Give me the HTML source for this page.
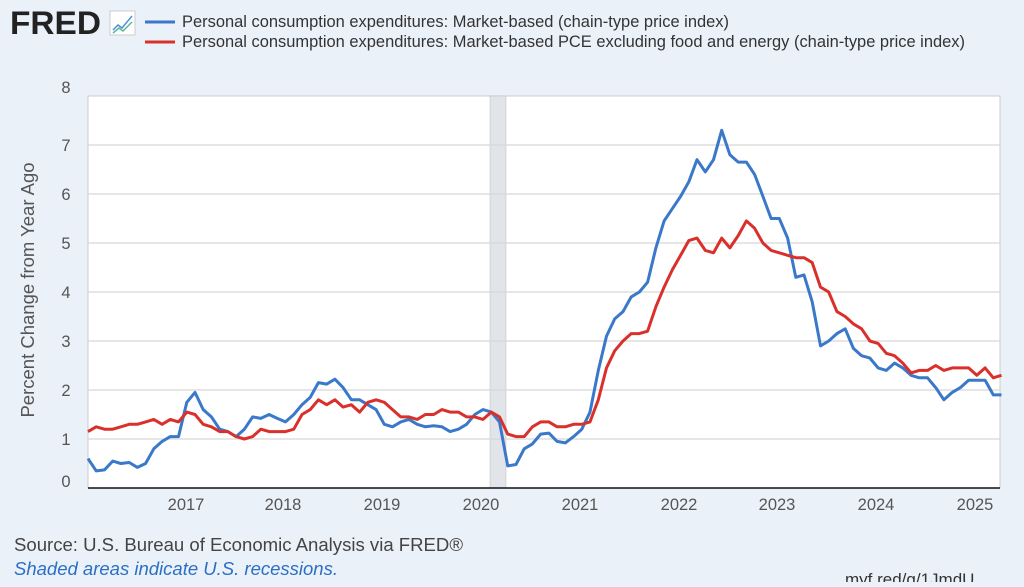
<!DOCTYPE html><html><head><style>body{margin:0;background:#ebf1f9;width:1024px;height:582px;overflow:hidden;font-family:"Liberation Sans",sans-serif}</style></head><body>
<svg width="1024" height="582" xmlns="http://www.w3.org/2000/svg" font-family="Liberation Sans, sans-serif">
<rect width="1024" height="582" fill="#ebf1f9"/>
<text x="10" y="34" font-size="32" font-weight="bold" fill="#222" textLength="91" lengthAdjust="spacingAndGlyphs">FRED</text>
<rect x="110" y="11" width="25" height="24" fill="#fff" stroke="#ccc"/>
<polyline points="113,30 118,25 122,28 132,16" fill="none" stroke="#4a90d9" stroke-width="1.5"/>
<polyline points="113,33 119,28 123,31 132,22" fill="none" stroke="#5bb89b" stroke-width="1.5"/>
<line x1="145" y1="22" x2="175" y2="22" stroke="#3a78c9" stroke-width="3"/>
<line x1="145" y1="42" x2="175" y2="42" stroke="#d9302c" stroke-width="3"/>
<text x="182" y="27" font-size="16.4" fill="#333" textLength="547" lengthAdjust="spacingAndGlyphs">Personal consumption expenditures: Market-based (chain-type price index)</text>
<text x="182" y="47" font-size="16.4" fill="#333" textLength="783" lengthAdjust="spacingAndGlyphs">Personal consumption expenditures: Market-based PCE excluding food and energy (chain-type price index)</text>
<rect x="88" y="96" width="912" height="392" fill="#fff" stroke="#ccc"/>
<rect x="490" y="96" width="16" height="392" fill="#e1e5ea" stroke="#bbb" stroke-width="0.5"/>
<g stroke="#d8d8d8" stroke-width="1.2">
<line x1="88" x2="1000" y1="439" y2="439"/><line x1="88" x2="1000" y1="390" y2="390"/><line x1="88" x2="1000" y1="341" y2="341"/><line x1="88" x2="1000" y1="292" y2="292"/><line x1="88" x2="1000" y1="243" y2="243"/><line x1="88" x2="1000" y1="194" y2="194"/><line x1="88" x2="1000" y1="145" y2="145"/></g>
<line x1="88" x2="1000" y1="488" y2="488" stroke="#111" stroke-width="1.5"/>
<g font-size="16.5" fill="#555" text-anchor="middle">
<text x="66" y="93">8</text><text x="66" y="151">7</text><text x="66" y="200">6</text><text x="66" y="249">5</text><text x="66" y="298">4</text><text x="66" y="347">3</text><text x="66" y="396">2</text><text x="66" y="445">1</text><text x="66" y="487">0</text>
<text x="186" y="510">2017</text><text x="283" y="510">2018</text><text x="382" y="510">2019</text><text x="481" y="510">2020</text><text x="580" y="510">2021</text><text x="679" y="510">2022</text><text x="777" y="510">2023</text><text x="876" y="510">2024</text><text x="975" y="510">2025</text>
</g>
<text transform="translate(34,290) rotate(-90)" font-size="18.5" fill="#555" text-anchor="middle">Percent Change from Year Ago</text>
<text x="14" y="551" font-size="18" fill="#444" textLength="449" lengthAdjust="spacingAndGlyphs">Source: U.S. Bureau of Economic Analysis via FRED®</text>
<text x="14" y="575" font-size="18" fill="#2b6fc4" font-style="italic" textLength="324" lengthAdjust="spacingAndGlyphs">Shaded areas indicate U.S. recessions.</text>
<text x="845" y="585" font-size="17" fill="#333">myf.red/g/1JmdU</text>
<g id="s"></g>
</svg>
<script>
var b=[0.6,0.35,0.37,0.55,0.5,0.52,0.42,0.5,0.8,0.95,1.05,1.05,1.75,1.95,1.6,1.45,1.2,1.15,1.05,1.2,1.45,1.42,1.5,1.42,1.35,1.5,1.7,1.85,2.15,2.12,2.22,2.05,1.8,1.8,1.7,1.6,1.3,1.25,1.35,1.4,1.3,1.25,1.27,1.25,1.15,1.2,1.3,1.5,1.6,1.55,1.35,0.45,0.48,0.8,0.9,1.1,1.12,0.95,0.92,1.05,1.2,1.55,2.4,3.1,3.45,3.6,3.9,4.0,4.2,4.9,5.45,5.7,5.95,6.25,6.7,6.45,6.7,7.3,6.8,6.65,6.65,6.4,5.95,5.5,5.5,5.1,4.3,4.35,3.8,2.9,3.0,3.15,3.25,2.85,2.7,2.65,2.45,2.4,2.55,2.45,2.3,2.25,2.25,2.05,1.8,1.95,2.05,2.2,2.2,2.2,1.9,1.9];
var r=[1.15,1.25,1.2,1.2,1.25,1.3,1.3,1.35,1.4,1.3,1.4,1.35,1.55,1.5,1.3,1.25,1.15,1.15,1.05,1.0,1.05,1.2,1.15,1.15,1.15,1.2,1.5,1.6,1.8,1.7,1.8,1.65,1.7,1.55,1.75,1.8,1.75,1.6,1.45,1.45,1.4,1.5,1.5,1.6,1.55,1.55,1.45,1.45,1.4,1.55,1.45,1.1,1.05,1.05,1.25,1.35,1.35,1.25,1.25,1.3,1.3,1.35,1.8,2.45,2.8,3.0,3.15,3.15,3.2,3.7,4.1,4.45,4.75,5.05,5.1,4.85,4.8,5.1,4.9,5.15,5.45,5.3,5.0,4.85,4.8,4.75,4.7,4.7,4.6,4.1,4.0,3.6,3.5,3.35,3.25,3.0,2.95,2.75,2.7,2.55,2.35,2.4,2.4,2.5,2.4,2.45,2.45,2.45,2.3,2.45,2.25,2.3];
function p(a,c){var s=a.map(function(v,i){return (88+i*8.23).toFixed(1)+','+(488-v*49).toFixed(1)}).join(' ');
var e=document.createElementNS('http://www.w3.org/2000/svg','polyline');e.setAttribute('points',s);e.setAttribute('fill','none');e.setAttribute('stroke',c);e.setAttribute('stroke-width','3');e.setAttribute('stroke-linejoin','round');document.getElementById('s').appendChild(e);}
p(b,'#3a78c9');p(r,'#d9302c');
</script>
</body></html>
